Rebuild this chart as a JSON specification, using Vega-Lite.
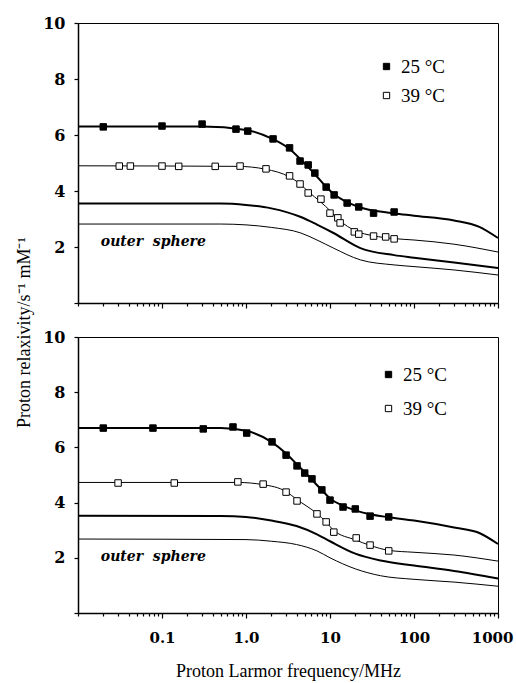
{
  "$schema": "https://vega.github.io/schema/vega-lite/v6.json",
  "padding": {"left": 14, "top": 14, "right": 0, "bottom": 2},
  "bounds": "flush",
  "spacing": 34,
  "config": {
    "font": "Liberation Serif",
    "view": {"stroke": "black", "strokeWidth": 1},
    "axis": {"domainColor": "black", "domainWidth": 1.5, "tickColor": "black", "labelColor": "black", "titleColor": "black", "grid": false, "labelFont": "DejaVu Serif", "titleFont": "Liberation Serif"},
    "legend": {"labelFont": "Liberation Serif", "labelColor": "black"}
  },
  "resolve": {"legend": {"fill": "independent"}},
  "datasets": {
    "points": [
      {"panel": "top", "temp": "25 °C", "f": 0.02, "r": 6.29},
      {"panel": "top", "temp": "25 °C", "f": 0.1, "r": 6.32},
      {"panel": "top", "temp": "25 °C", "f": 0.3, "r": 6.39},
      {"panel": "top", "temp": "25 °C", "f": 0.76, "r": 6.21},
      {"panel": "top", "temp": "25 °C", "f": 1.05, "r": 6.14},
      {"panel": "top", "temp": "25 °C", "f": 2.1, "r": 5.86},
      {"panel": "top", "temp": "25 °C", "f": 3.3, "r": 5.54},
      {"panel": "top", "temp": "25 °C", "f": 4.4, "r": 5.07},
      {"panel": "top", "temp": "25 °C", "f": 5.5, "r": 4.93},
      {"panel": "top", "temp": "25 °C", "f": 6.6, "r": 4.64},
      {"panel": "top", "temp": "25 °C", "f": 9, "r": 4.14},
      {"panel": "top", "temp": "25 °C", "f": 11.2, "r": 3.86},
      {"panel": "top", "temp": "25 °C", "f": 16, "r": 3.57},
      {"panel": "top", "temp": "25 °C", "f": 22, "r": 3.43},
      {"panel": "top", "temp": "25 °C", "f": 33, "r": 3.21},
      {"panel": "top", "temp": "25 °C", "f": 58, "r": 3.25},
      {"panel": "top", "temp": "39 °C", "f": 0.031, "r": 4.89},
      {"panel": "top", "temp": "39 °C", "f": 0.042, "r": 4.89},
      {"panel": "top", "temp": "39 °C", "f": 0.1, "r": 4.89},
      {"panel": "top", "temp": "39 °C", "f": 0.158, "r": 4.88},
      {"panel": "top", "temp": "39 °C", "f": 0.43, "r": 4.88},
      {"panel": "top", "temp": "39 °C", "f": 0.85, "r": 4.89},
      {"panel": "top", "temp": "39 °C", "f": 1.73, "r": 4.79},
      {"panel": "top", "temp": "39 °C", "f": 3.3, "r": 4.54},
      {"panel": "top", "temp": "39 °C", "f": 4.4, "r": 4.25},
      {"panel": "top", "temp": "39 °C", "f": 5.5, "r": 3.93},
      {"panel": "top", "temp": "39 °C", "f": 7.8, "r": 3.71},
      {"panel": "top", "temp": "39 °C", "f": 10, "r": 3.21},
      {"panel": "top", "temp": "39 °C", "f": 12.4, "r": 3.04},
      {"panel": "top", "temp": "39 °C", "f": 13.2, "r": 2.86},
      {"panel": "top", "temp": "39 °C", "f": 19.5, "r": 2.54},
      {"panel": "top", "temp": "39 °C", "f": 22, "r": 2.46},
      {"panel": "top", "temp": "39 °C", "f": 33, "r": 2.39},
      {"panel": "top", "temp": "39 °C", "f": 46, "r": 2.36},
      {"panel": "top", "temp": "39 °C", "f": 58, "r": 2.29},
      {"panel": "bottom", "temp": "25 °C", "f": 0.02, "r": 6.7},
      {"panel": "bottom", "temp": "25 °C", "f": 0.078, "r": 6.7},
      {"panel": "bottom", "temp": "25 °C", "f": 0.31, "r": 6.67},
      {"panel": "bottom", "temp": "25 °C", "f": 0.7, "r": 6.74},
      {"panel": "bottom", "temp": "25 °C", "f": 1.02, "r": 6.52},
      {"panel": "bottom", "temp": "25 °C", "f": 2.04, "r": 6.2},
      {"panel": "bottom", "temp": "25 °C", "f": 3.0, "r": 5.72},
      {"panel": "bottom", "temp": "25 °C", "f": 4.05, "r": 5.33},
      {"panel": "bottom", "temp": "25 °C", "f": 5.0, "r": 5.07},
      {"panel": "bottom", "temp": "25 °C", "f": 6.1, "r": 4.86},
      {"panel": "bottom", "temp": "25 °C", "f": 8, "r": 4.46},
      {"panel": "bottom", "temp": "25 °C", "f": 10, "r": 4.09},
      {"panel": "bottom", "temp": "25 °C", "f": 14.3, "r": 3.84},
      {"panel": "bottom", "temp": "25 °C", "f": 20, "r": 3.77},
      {"panel": "bottom", "temp": "25 °C", "f": 30, "r": 3.51},
      {"panel": "bottom", "temp": "25 °C", "f": 50, "r": 3.48},
      {"panel": "bottom", "temp": "39 °C", "f": 0.03, "r": 4.71},
      {"panel": "bottom", "temp": "39 °C", "f": 0.14, "r": 4.71},
      {"panel": "bottom", "temp": "39 °C", "f": 0.8, "r": 4.75},
      {"panel": "bottom", "temp": "39 °C", "f": 1.6, "r": 4.67},
      {"panel": "bottom", "temp": "39 °C", "f": 3.0, "r": 4.38},
      {"panel": "bottom", "temp": "39 °C", "f": 4.05, "r": 4.06},
      {"panel": "bottom", "temp": "39 °C", "f": 7, "r": 3.59},
      {"panel": "bottom", "temp": "39 °C", "f": 9, "r": 3.3},
      {"panel": "bottom", "temp": "39 °C", "f": 11.1, "r": 2.93},
      {"panel": "bottom", "temp": "39 °C", "f": 20.5, "r": 2.72},
      {"panel": "bottom", "temp": "39 °C", "f": 30, "r": 2.46},
      {"panel": "bottom", "temp": "39 °C", "f": 50, "r": 2.25}
    ],
    "curves": [
      {"panel": "top", "curve": "fit", "temp": "25 °C", "f": 0.01, "r": 6.3},
      {"panel": "top", "curve": "fit", "temp": "25 °C", "f": 0.3, "r": 6.3},
      {"panel": "top", "curve": "fit", "temp": "25 °C", "f": 1, "r": 6.18},
      {"panel": "top", "curve": "fit", "temp": "25 °C", "f": 2, "r": 5.88},
      {"panel": "top", "curve": "fit", "temp": "25 °C", "f": 3.3, "r": 5.5},
      {"panel": "top", "curve": "fit", "temp": "25 °C", "f": 4.4, "r": 5.15},
      {"panel": "top", "curve": "fit", "temp": "25 °C", "f": 5.5, "r": 4.85},
      {"panel": "top", "curve": "fit", "temp": "25 °C", "f": 6.6, "r": 4.6},
      {"panel": "top", "curve": "fit", "temp": "25 °C", "f": 9, "r": 4.15},
      {"panel": "top", "curve": "fit", "temp": "25 °C", "f": 11, "r": 3.9},
      {"panel": "top", "curve": "fit", "temp": "25 °C", "f": 16, "r": 3.6},
      {"panel": "top", "curve": "fit", "temp": "25 °C", "f": 22, "r": 3.43},
      {"panel": "top", "curve": "fit", "temp": "25 °C", "f": 33, "r": 3.3},
      {"panel": "top", "curve": "fit", "temp": "25 °C", "f": 58, "r": 3.2},
      {"panel": "top", "curve": "fit", "temp": "25 °C", "f": 100, "r": 3.12},
      {"panel": "top", "curve": "fit", "temp": "25 °C", "f": 300, "r": 2.95},
      {"panel": "top", "curve": "fit", "temp": "25 °C", "f": 600, "r": 2.72},
      {"panel": "top", "curve": "fit", "temp": "25 °C", "f": 1000, "r": 2.32},
      {"panel": "top", "curve": "fit", "temp": "39 °C", "f": 0.01, "r": 4.9},
      {"panel": "top", "curve": "fit", "temp": "39 °C", "f": 0.8, "r": 4.88},
      {"panel": "top", "curve": "fit", "temp": "39 °C", "f": 1.7, "r": 4.78},
      {"panel": "top", "curve": "fit", "temp": "39 °C", "f": 3.3, "r": 4.5},
      {"panel": "top", "curve": "fit", "temp": "39 °C", "f": 4.4, "r": 4.25},
      {"panel": "top", "curve": "fit", "temp": "39 °C", "f": 5.5, "r": 3.98},
      {"panel": "top", "curve": "fit", "temp": "39 °C", "f": 7.8, "r": 3.6},
      {"panel": "top", "curve": "fit", "temp": "39 °C", "f": 10, "r": 3.3},
      {"panel": "top", "curve": "fit", "temp": "39 °C", "f": 13, "r": 2.95},
      {"panel": "top", "curve": "fit", "temp": "39 °C", "f": 20, "r": 2.58},
      {"panel": "top", "curve": "fit", "temp": "39 °C", "f": 33, "r": 2.4},
      {"panel": "top", "curve": "fit", "temp": "39 °C", "f": 58, "r": 2.3},
      {"panel": "top", "curve": "fit", "temp": "39 °C", "f": 100, "r": 2.25},
      {"panel": "top", "curve": "fit", "temp": "39 °C", "f": 300, "r": 2.1},
      {"panel": "top", "curve": "fit", "temp": "39 °C", "f": 1000, "r": 1.82},
      {"panel": "top", "curve": "outer", "temp": "25 °C", "f": 0.01, "r": 3.55},
      {"panel": "top", "curve": "outer", "temp": "25 °C", "f": 0.5, "r": 3.55},
      {"panel": "top", "curve": "outer", "temp": "25 °C", "f": 1, "r": 3.5},
      {"panel": "top", "curve": "outer", "temp": "25 °C", "f": 2, "r": 3.38},
      {"panel": "top", "curve": "outer", "temp": "25 °C", "f": 4.5, "r": 3.07},
      {"panel": "top", "curve": "outer", "temp": "25 °C", "f": 7, "r": 2.8},
      {"panel": "top", "curve": "outer", "temp": "25 °C", "f": 11, "r": 2.5},
      {"panel": "top", "curve": "outer", "temp": "25 °C", "f": 23, "r": 1.96},
      {"panel": "top", "curve": "outer", "temp": "25 °C", "f": 58, "r": 1.71},
      {"panel": "top", "curve": "outer", "temp": "25 °C", "f": 100, "r": 1.62},
      {"panel": "top", "curve": "outer", "temp": "25 °C", "f": 300, "r": 1.45},
      {"panel": "top", "curve": "outer", "temp": "25 °C", "f": 1000, "r": 1.25},
      {"panel": "top", "curve": "outer", "temp": "39 °C", "f": 0.01, "r": 2.82},
      {"panel": "top", "curve": "outer", "temp": "39 °C", "f": 0.5, "r": 2.82},
      {"panel": "top", "curve": "outer", "temp": "39 °C", "f": 1, "r": 2.79},
      {"panel": "top", "curve": "outer", "temp": "39 °C", "f": 2, "r": 2.7},
      {"panel": "top", "curve": "outer", "temp": "39 °C", "f": 4.5, "r": 2.5},
      {"panel": "top", "curve": "outer", "temp": "39 °C", "f": 7, "r": 2.25},
      {"panel": "top", "curve": "outer", "temp": "39 °C", "f": 11, "r": 1.96},
      {"panel": "top", "curve": "outer", "temp": "39 °C", "f": 23, "r": 1.54},
      {"panel": "top", "curve": "outer", "temp": "39 °C", "f": 58, "r": 1.36},
      {"panel": "top", "curve": "outer", "temp": "39 °C", "f": 100, "r": 1.3},
      {"panel": "top", "curve": "outer", "temp": "39 °C", "f": 300, "r": 1.18},
      {"panel": "top", "curve": "outer", "temp": "39 °C", "f": 1000, "r": 1.0},
      {"panel": "bottom", "curve": "fit", "temp": "25 °C", "f": 0.01, "r": 6.7},
      {"panel": "bottom", "curve": "fit", "temp": "25 °C", "f": 0.5, "r": 6.7},
      {"panel": "bottom", "curve": "fit", "temp": "25 °C", "f": 1, "r": 6.6},
      {"panel": "bottom", "curve": "fit", "temp": "25 °C", "f": 2, "r": 6.2},
      {"panel": "bottom", "curve": "fit", "temp": "25 °C", "f": 3, "r": 5.78},
      {"panel": "bottom", "curve": "fit", "temp": "25 °C", "f": 4, "r": 5.4},
      {"panel": "bottom", "curve": "fit", "temp": "25 °C", "f": 5, "r": 5.1},
      {"panel": "bottom", "curve": "fit", "temp": "25 °C", "f": 6, "r": 4.85},
      {"panel": "bottom", "curve": "fit", "temp": "25 °C", "f": 8, "r": 4.45},
      {"panel": "bottom", "curve": "fit", "temp": "25 °C", "f": 10, "r": 4.15},
      {"panel": "bottom", "curve": "fit", "temp": "25 °C", "f": 14, "r": 3.9},
      {"panel": "bottom", "curve": "fit", "temp": "25 °C", "f": 20, "r": 3.72},
      {"panel": "bottom", "curve": "fit", "temp": "25 °C", "f": 30, "r": 3.58},
      {"panel": "bottom", "curve": "fit", "temp": "25 °C", "f": 50, "r": 3.47},
      {"panel": "bottom", "curve": "fit", "temp": "25 °C", "f": 100, "r": 3.35},
      {"panel": "bottom", "curve": "fit", "temp": "25 °C", "f": 300, "r": 3.1},
      {"panel": "bottom", "curve": "fit", "temp": "25 °C", "f": 600, "r": 2.9},
      {"panel": "bottom", "curve": "fit", "temp": "25 °C", "f": 1000, "r": 2.5},
      {"panel": "bottom", "curve": "fit", "temp": "39 °C", "f": 0.01, "r": 4.73},
      {"panel": "bottom", "curve": "fit", "temp": "39 °C", "f": 0.8, "r": 4.73},
      {"panel": "bottom", "curve": "fit", "temp": "39 °C", "f": 1.6, "r": 4.65},
      {"panel": "bottom", "curve": "fit", "temp": "39 °C", "f": 3, "r": 4.4},
      {"panel": "bottom", "curve": "fit", "temp": "39 °C", "f": 4, "r": 4.12},
      {"panel": "bottom", "curve": "fit", "temp": "39 °C", "f": 7, "r": 3.6},
      {"panel": "bottom", "curve": "fit", "temp": "39 °C", "f": 9, "r": 3.3},
      {"panel": "bottom", "curve": "fit", "temp": "39 °C", "f": 11, "r": 3.0},
      {"panel": "bottom", "curve": "fit", "temp": "39 °C", "f": 20, "r": 2.65},
      {"panel": "bottom", "curve": "fit", "temp": "39 °C", "f": 30, "r": 2.45},
      {"panel": "bottom", "curve": "fit", "temp": "39 °C", "f": 50, "r": 2.27},
      {"panel": "bottom", "curve": "fit", "temp": "39 °C", "f": 100, "r": 2.2},
      {"panel": "bottom", "curve": "fit", "temp": "39 °C", "f": 300, "r": 2.1},
      {"panel": "bottom", "curve": "fit", "temp": "39 °C", "f": 1000, "r": 1.88},
      {"panel": "bottom", "curve": "outer", "temp": "25 °C", "f": 0.01, "r": 3.52},
      {"panel": "bottom", "curve": "outer", "temp": "25 °C", "f": 0.5, "r": 3.51},
      {"panel": "bottom", "curve": "outer", "temp": "25 °C", "f": 1, "r": 3.48},
      {"panel": "bottom", "curve": "outer", "temp": "25 °C", "f": 2, "r": 3.35},
      {"panel": "bottom", "curve": "outer", "temp": "25 °C", "f": 4, "r": 3.15},
      {"panel": "bottom", "curve": "outer", "temp": "25 °C", "f": 7, "r": 2.85},
      {"panel": "bottom", "curve": "outer", "temp": "25 °C", "f": 10, "r": 2.6},
      {"panel": "bottom", "curve": "outer", "temp": "25 °C", "f": 20, "r": 2.15},
      {"panel": "bottom", "curve": "outer", "temp": "25 °C", "f": 40, "r": 1.9},
      {"panel": "bottom", "curve": "outer", "temp": "25 °C", "f": 100, "r": 1.72},
      {"panel": "bottom", "curve": "outer", "temp": "25 °C", "f": 300, "r": 1.52},
      {"panel": "bottom", "curve": "outer", "temp": "25 °C", "f": 1000, "r": 1.25},
      {"panel": "bottom", "curve": "outer", "temp": "39 °C", "f": 0.01, "r": 2.68},
      {"panel": "bottom", "curve": "outer", "temp": "39 °C", "f": 1, "r": 2.66},
      {"panel": "bottom", "curve": "outer", "temp": "39 °C", "f": 2, "r": 2.6},
      {"panel": "bottom", "curve": "outer", "temp": "39 °C", "f": 4, "r": 2.48},
      {"panel": "bottom", "curve": "outer", "temp": "39 °C", "f": 7, "r": 2.25},
      {"panel": "bottom", "curve": "outer", "temp": "39 °C", "f": 10, "r": 2.0},
      {"panel": "bottom", "curve": "outer", "temp": "39 °C", "f": 20, "r": 1.6},
      {"panel": "bottom", "curve": "outer", "temp": "39 °C", "f": 40, "r": 1.35},
      {"panel": "bottom", "curve": "outer", "temp": "39 °C", "f": 100, "r": 1.22},
      {"panel": "bottom", "curve": "outer", "temp": "39 °C", "f": 300, "r": 1.12},
      {"panel": "bottom", "curve": "outer", "temp": "39 °C", "f": 1000, "r": 0.97}
    ],
    "labels": [
      {"panel": "top", "text": "outer\u00a0\u00a0sphere", "f": 0.0187, "r": 2.18},
      {"panel": "bottom", "text": "outer\u00a0\u00a0sphere", "f": 0.0187, "r": 2.03}
    ]
  },
  "vconcat": [
    {
      "width": 420,
      "height": 280,
      "layer": [
        {
          "data": {"name": "curves"},
          "transform": [{"filter": "datum.panel == 'top'"}],
          "mark": {"type": "line", "interpolate": "monotone", "color": "black"},
          "encoding": {
            "x": {"field": "f", "type": "quantitative", "scale": {"type": "log", "domain": [0.01, 1000], "nice": false},
              "axis": {"title": null, "labels": false, "values": [0.01,0.02,0.03,0.04,0.05,0.06,0.07,0.08,0.09,0.1,0.2,0.3,0.4,0.5,0.6,0.7,0.8,0.9,1,2,3,4,5,6,7,8,9,10,20,30,40,50,60,70,80,90,100,200,300,400,500,600,700,800,900,1000],
                "tickSize": {"condition": {"test": "datum.value == 0.1 || datum.value == 1 || datum.value == 10 || datum.value == 100 || datum.value == 1000", "value": 5}, "value": 3}, "tickWidth": 1.2}},
            "y": {"field": "r", "type": "quantitative", "scale": {"domain": [0, 10], "nice": false},
              "axis": {"title": null, "values": [0,1,2,3,4,5,6,7,8,9,10], "labelExpr": "datum.value % 2 == 0 && datum.value > 0 ? datum.label : ''", "labelFontSize": 16, "labelFontWeight": "bold", "labelPadding": 9, "tickSize": 4, "tickWidth": 1.2, "labelOverlap": false}},
            "detail": [{"field": "curve"}, {"field": "temp"}],
            "strokeWidth": {"field": "temp", "type": "nominal", "scale": {"domain": ["25 °C", "39 °C"], "range": [2, 1]}, "legend": null}
          }
        },
        {
          "data": {"name": "points"},
          "transform": [{"filter": "datum.panel == 'top'"}],
          "mark": {"type": "point", "shape": "square", "filled": true, "stroke": "black", "strokeWidth": 1, "size": 42, "opacity": 1},
          "encoding": {
            "x": {"field": "f", "type": "quantitative"},
            "y": {"field": "r", "type": "quantitative"},
            "fill": {"field": "temp", "type": "nominal", "scale": {"domain": ["25 °C", "39 °C"], "range": ["black", "white"]},
              "legend": {"title": null, "orient": "none", "legendX": 299, "legendY": 34, "symbolType": "square", "symbolSize": 40, "symbolStrokeColor": "black", "symbolStrokeWidth": 1, "labelFontSize": 19, "labelOffset": 5, "rowPadding": 9, "padding": 0}}
          }
        },
        {
          "data": {"name": "labels"},
          "transform": [{"filter": "datum.panel == 'top'"}],
          "mark": {"type": "text", "align": "left", "baseline": "middle", "font": "DejaVu Serif", "fontSize": 14, "fontWeight": "bold", "fontStyle": "italic", "color": "black"},
          "encoding": {
            "x": {"field": "f", "type": "quantitative"},
            "y": {"field": "r", "type": "quantitative"},
            "text": {"field": "text"}
          }
        }
      ]
    },
    {
      "width": 420,
      "height": 276,
      "layer": [
        {
          "data": {"name": "curves"},
          "transform": [{"filter": "datum.panel == 'bottom'"}],
          "mark": {"type": "line", "interpolate": "monotone", "color": "black"},
          "encoding": {
            "x": {"field": "f", "type": "quantitative", "scale": {"type": "log", "domain": [0.01, 1000], "nice": false},
              "axis": {"title": "Proton Larmor frequency/MHz", "titleFontSize": 18, "titleFontWeight": "normal", "titlePadding": 17, "values": [0.01,0.02,0.03,0.04,0.05,0.06,0.07,0.08,0.09,0.1,0.2,0.3,0.4,0.5,0.6,0.7,0.8,0.9,1,2,3,4,5,6,7,8,9,10,20,30,40,50,60,70,80,90,100,200,300,400,500,600,700,800,900,1000],
                "labelExpr": "datum.value == 0.1 ? '0.1' : datum.value == 1 ? '1.0' : datum.value == 10 ? '10' : datum.value == 100 ? '100' : datum.value == 1000 ? '1000' : ''",
                "labelFontSize": 15, "labelFontWeight": "bold", "labelPadding": 12, "labelOverlap": false, "labelFlush": true, "labelFlushOffset": 15, "labelBound": false,
                "tickSize": {"condition": {"test": "datum.value == 0.1 || datum.value == 1 || datum.value == 10 || datum.value == 100 || datum.value == 1000", "value": 5}, "value": 3}, "tickWidth": 1.2}},
            "y": {"field": "r", "type": "quantitative", "scale": {"domain": [0, 10], "nice": false},
              "axis": {"title": "Proton relaxivity/s⁻¹ mM⁻¹", "titleFontSize": 18, "titleFontWeight": "normal", "titleX": -45, "titleY": -5, "values": [0,1,2,3,4,5,6,7,8,9,10], "labelExpr": "datum.value % 2 == 0 && datum.value > 0 ? datum.label : ''", "labelFontSize": 16, "labelFontWeight": "bold", "labelPadding": 9, "tickSize": 4, "tickWidth": 1.2, "labelOverlap": false}},
            "detail": [{"field": "curve"}, {"field": "temp"}],
            "strokeWidth": {"field": "temp", "type": "nominal", "scale": {"domain": ["25 °C", "39 °C"], "range": [2, 1]}, "legend": null}
          }
        },
        {
          "data": {"name": "points"},
          "transform": [{"filter": "datum.panel == 'bottom'"}],
          "mark": {"type": "point", "shape": "square", "filled": true, "stroke": "black", "strokeWidth": 1, "size": 42, "opacity": 1},
          "encoding": {
            "x": {"field": "f", "type": "quantitative"},
            "y": {"field": "r", "type": "quantitative"},
            "fill": {"field": "temp", "type": "nominal", "scale": {"domain": ["25 °C", "39 °C"], "range": ["black", "white"]},
              "legend": {"title": null, "orient": "none", "legendX": 301, "legendY": 28, "symbolType": "square", "symbolSize": 40, "symbolStrokeColor": "black", "symbolStrokeWidth": 1, "labelFontSize": 19, "labelOffset": 5, "rowPadding": 14, "padding": 0}}
          }
        },
        {
          "data": {"name": "labels"},
          "transform": [{"filter": "datum.panel == 'bottom'"}],
          "mark": {"type": "text", "align": "left", "baseline": "middle", "font": "DejaVu Serif", "fontSize": 14, "fontWeight": "bold", "fontStyle": "italic", "color": "black"},
          "encoding": {
            "x": {"field": "f", "type": "quantitative"},
            "y": {"field": "r", "type": "quantitative"},
            "text": {"field": "text"}
          }
        }
      ]
    }
  ]
}
